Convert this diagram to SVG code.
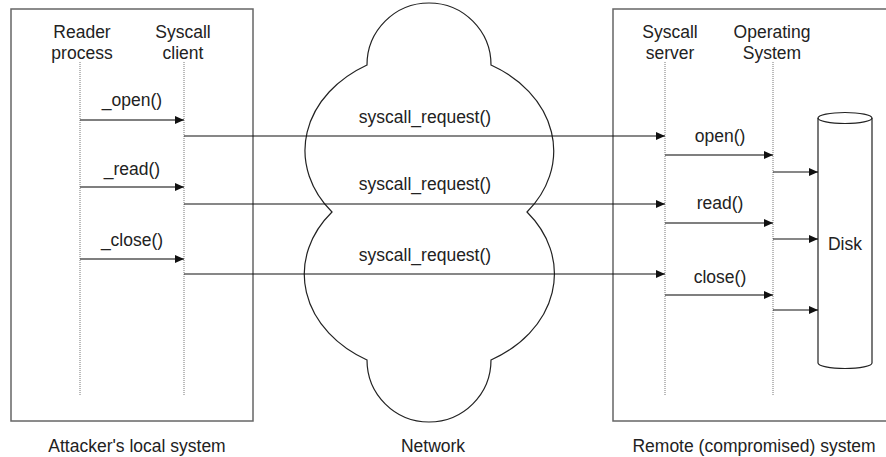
<svg xmlns="http://www.w3.org/2000/svg" width="886" height="457" viewBox="0 0 886 457">
<style>
text{font-family:"Liberation Sans",Arial,sans-serif;font-size:17.5px;fill:#222;text-anchor:middle}
.box{fill:none;stroke:#666;stroke-width:1.5}
.life{stroke:#777;stroke-width:1;stroke-dasharray:1,1}
.msg{stroke:#555;stroke-width:1.4;fill:none;marker-end:url(#ah)}
.net{stroke:#111;stroke-width:1.1;fill:none;marker-end:url(#ah)}
.shape{fill:none;stroke:#222;stroke-width:1.2}
</style>
<defs>
<marker id="ah" viewBox="0 0 9 8" refX="9" refY="4" markerWidth="9" markerHeight="8" markerUnits="userSpaceOnUse" orient="auto">
<path d="M0,0 L9,4 L0,8 z" fill="#111"/>
</marker>
</defs>
<rect fill="#fff" width="886" height="457"/>
<g id="local-system">
<rect class="box" x="11" y="9" width="242" height="412"/>
<text x="137" y="452">Attacker's local system</text>
</g>
<g id="reader-process">
<text x="82" y="38">Reader</text>
<text x="82" y="59">process</text>
<line class="life" x1="80" y1="62" x2="80" y2="395"/>
</g>
<g id="syscall-client">
<text x="183" y="38">Syscall</text>
<text x="183" y="59">client</text>
<line class="life" x1="184" y1="62" x2="184" y2="395"/>
</g>
<g id="network">
<path class="shape" d="M367,65 A62,62 0 1,1 491,65 A125,99 0 0,1 527,212 A125,99 0 0,1 491,360 A62,62 0 1,1 367,360 A125,99 0 0,1 332,212 A125,99 0 0,1 367,65 Z"/>
<text x="433" y="452">Network</text>
</g>
<g id="remote-system">
<path class="box" d="M888,9 H613 V421 H888"/>
<text x="754" y="452">Remote (compromised) system</text>
</g>
<g id="syscall-server">
<text x="670" y="38">Syscall</text>
<text x="670" y="59">server</text>
<line class="life" x1="665" y1="62" x2="665" y2="395"/>
</g>
<g id="operating-system">
<text x="772" y="38">Operating</text>
<text x="772" y="59">System</text>
<line class="life" x1="773" y1="62" x2="773" y2="395"/>
</g>
<g id="disk">
<path class="shape" d="M818,118 V363 A27,5.5 0 0,0 872,363 V118"/>
<ellipse class="shape" cx="845" cy="118" rx="27" ry="5.5"/>
<text x="845" y="250">Disk</text>
</g>
<g id="connectors">
<line class="msg" x1="80" y1="120" x2="184" y2="120"/>
<line class="msg" x1="80" y1="187" x2="184" y2="187"/>
<line class="msg" x1="80" y1="259" x2="184" y2="259"/>
<line class="net" x1="184" y1="136" x2="665" y2="136"/>
<line class="net" x1="184" y1="204" x2="665" y2="204"/>
<line class="net" x1="184" y1="274" x2="665" y2="274"/>
<line class="msg" x1="665" y1="155" x2="773" y2="155"/>
<line class="msg" x1="665" y1="223" x2="773" y2="223"/>
<line class="msg" x1="665" y1="295" x2="773" y2="295"/>
<line class="net" x1="773" y1="172" x2="818" y2="172"/>
<line class="net" x1="773" y1="239" x2="818" y2="239"/>
<line class="net" x1="773" y1="310" x2="818" y2="310"/>
<text x="132" y="106">_open()</text>
<text x="132" y="175">_read()</text>
<text x="132" y="246">_close()</text>
<text x="425" y="123">syscall_request()</text>
<text x="425" y="190">syscall_request()</text>
<text x="425" y="261">syscall_request()</text>
<text x="720" y="142">open()</text>
<text x="720" y="209">read()</text>
<text x="720" y="283">close()</text>
</g>
</svg>
